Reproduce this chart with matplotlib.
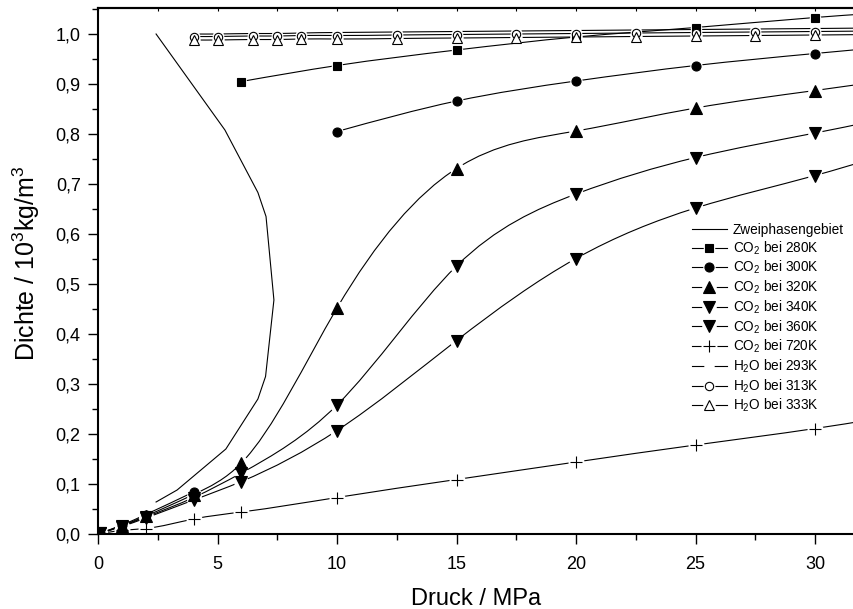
import numpy as np
import matplotlib
matplotlib.use("Agg")
import matplotlib.pyplot as plt
from matplotlib.ticker import MultipleLocator, FuncFormatter
from matplotlib.path import Path
from matplotlib.patches import PathPatch
from matplotlib.lines import Line2D

plt.rcParams['font.family'] = ['Liberation Sans', 'DejaVu Sans']
plt.rcParams['mathtext.fontset'] = 'custom'
plt.rcParams['mathtext.rm'] = 'Liberation Sans'
plt.rcParams['mathtext.it'] = 'Liberation Sans:italic'
plt.rcParams['mathtext.bf'] = 'Liberation Sans:bold'

nan = np.nan

# two-phase boundary of CO2 (liquid branch -> critical point -> vapour branch)
zw_p = [2.43, 5.31, 6.69, 7.03, 7.36, 7.01, 6.69, 5.35, 3.31, 2.43]
zw_rho = [1.000, 0.808, 0.683, 0.635, 0.468, 0.315, 0.270, 0.170, 0.088, 0.064]

# CO2 isotherms, density in 10^3 kg/m^3
p_co2 = [0.1, 1, 2, 4, 6, 10, 15, 20, 25, 30, 35]
co2_280 = [nan, nan, nan, nan, 0.905, 0.937, 0.968, 0.994, 1.013, 1.033, 1.049]
co2_300 = [0.0018, 0.018, 0.039, 0.084, nan, 0.805, 0.866, 0.906, 0.937, 0.961, 0.983]
co2_320 = [0.0017, 0.017, 0.036, 0.079, 0.142, 0.452, 0.731, 0.806, 0.852, 0.887, 0.921]
co2_340 = [0.0016, 0.016, 0.034, 0.073, 0.122, 0.258, 0.536, 0.680, 0.753, 0.802, 0.852]
co2_360 = [0.0015, 0.015, 0.032, 0.068, 0.105, 0.207, 0.387, 0.551, 0.652, 0.717, 0.790]
co2_720 = [0.0007, 0.0073, 0.011, 0.030, 0.044, 0.073, 0.109, 0.144, 0.178, 0.211, 0.250]

# water isotherms
p_h2o = [4, 5, 6.5, 7.5, 8.5, 10, 12.5, 15, 17.5, 20, 22.5, 25, 27.5, 30, 35]
h2o_293 = [1.000, 1.000, 1.001, 1.001, 1.002, 1.003, 1.004, 1.005, 1.006, 1.007, 1.008, 1.009, 1.010, 1.011, 1.013]
h2o_313 = [0.995, 0.995, 0.996, 0.996, 0.997, 0.997, 0.998, 0.999, 1.000, 1.001, 1.002, 1.003, 1.004, 1.005, 1.007]
h2o_333 = [0.988, 0.988, 0.989, 0.989, 0.990, 0.990, 0.991, 0.992, 0.993, 0.994, 0.995, 0.996, 0.997, 0.998, 1.000]


def natural_slopes(xs, ys):
    # end slopes of each interval of a natural cubic spline
    n = len(xs)
    h = np.diff(xs)
    d = np.diff(ys) / h
    M = np.zeros(n)
    if n > 2:
        A = np.zeros((n - 2, n - 2))
        r = 6 * (d[1:] - d[:-1])
        for i in range(n - 2):
            A[i, i] = 2 * (h[i] + h[i + 1])
            if i > 0:
                A[i, i - 1] = h[i]
            if i < n - 3:
                A[i, i + 1] = h[i + 1]
        M[1:-1] = np.linalg.solve(A, r)
    m0 = d - h * (2 * M[:-1] + M[1:]) / 6
    m1 = d + h * (M[:-1] + 2 * M[1:]) / 6
    return m0, m1


def spline_path(x, y):
    # smooth curve through the points, split at missing values
    x = np.asarray(x, float)
    y = np.asarray(y, float)
    verts, codes = [], []
    ok = ~np.isnan(y)
    start = 0
    while start < len(x):
        if not ok[start]:
            start += 1
            continue
        end = start
        while end + 1 < len(x) and ok[end + 1]:
            end += 1
        xs, ys = x[start:end + 1], y[start:end + 1]
        if len(xs) > 1:
            m0, m1 = natural_slopes(xs, ys)
            verts.append((xs[0], ys[0]))
            codes.append(Path.MOVETO)
            for i in range(len(xs) - 1):
                h = (xs[i + 1] - xs[i]) / 3
                verts += [(xs[i] + h, ys[i] + m0[i] * h),
                          (xs[i + 1] - h, ys[i + 1] - m1[i] * h),
                          (xs[i + 1], ys[i + 1])]
                codes += [Path.CURVE4] * 3
        start = end + 1
    return Path(verts, codes)


def draw_series(ax, x, y, marker, ms, fill, z):
    # smooth line, white gap around the symbols, then the symbols on top
    ax.add_patch(PathPatch(spline_path(x, y), fill=False, ec='black',
                           lw=0.8, zorder=1))
    line = Line2D([], [], color='black', lw=0.8)
    gap, = ax.plot(x, y, ls='none', marker='o', ms=ms + 2.5,
                   mfc='white', mec='white', mew=0, zorder=2)
    if marker is None:
        return (line, gap)
    sym, = ax.plot(x, y, ls='none', marker=marker, ms=ms, mfc=fill,
                   mec='black', mew=0.8, zorder=z)
    return (line, gap, sym)


fig = plt.figure(figsize=(8.54, 6.09), dpi=100)
ax = fig.add_axes([98 / 854, 75 / 609, 1 - 98 / 854, 526 / 609])

zw_line, = ax.plot(zw_p, zw_rho, color='black', lw=0.8, zorder=1)

handles = [zw_line]
handles.append(draw_series(ax, p_co2, co2_280, 's', 5.8, 'black', 3))
handles.append(draw_series(ax, p_co2, co2_300, 'o', 6.5, 'black', 4))
handles.append(draw_series(ax, p_co2, co2_320, '^', 8, 'black', 5))
handles.append(draw_series(ax, p_co2, co2_340, 'v', 8, 'black', 6))
handles.append(draw_series(ax, p_co2, co2_360, 'v', 8, 'black', 7))
handles.append(draw_series(ax, p_co2, co2_720, '+', 9, 'black', 8))
handles.append(draw_series(ax, p_h2o, h2o_293, None, 5, 'white', 9))
handles.append(draw_series(ax, p_h2o, h2o_313, 'o', 6, 'white', 10))
handles.append(draw_series(ax, p_h2o, h2o_333, '^', 6.5, 'white', 11))

labels = ['Zweiphasengebiet',
          'CO$_2$ bei 280K', 'CO$_2$ bei 300K', 'CO$_2$ bei 320K',
          'CO$_2$ bei 340K', 'CO$_2$ bei 360K', 'CO$_2$ bei 720K',
          'H$_2$O bei 293K', 'H$_2$O bei 313K', 'H$_2$O bei 333K']

ax.legend(handles, labels, loc='upper left', numpoints=1,
          bbox_to_anchor=(692 / 854, 1 - 223 / 609),
          bbox_transform=fig.transFigure, frameon=False, fontsize=9.8,
          handlelength=2.55, handletextpad=0.45, labelspacing=0.17,
          borderpad=0, borderaxespad=0)

ax.set_xlim(0, 31.63)
ax.set_ylim(0, 1.052)

ax.xaxis.set_major_locator(MultipleLocator(5))
ax.xaxis.set_minor_locator(MultipleLocator(2.5))
ax.yaxis.set_major_locator(MultipleLocator(0.1))
ax.yaxis.set_minor_locator(MultipleLocator(0.05))
ax.yaxis.set_major_formatter(FuncFormatter(lambda v, pos: f"{v:.1f}".replace('.', ',')))

ax.tick_params(which='major', direction='out', length=7.5, width=1.0,
               labelsize=13, pad=5)
ax.tick_params(which='minor', direction='out', length=4.5, width=1.0)
ax.tick_params(axis='x', which='major', pad=8)

for side in ['left', 'bottom', 'top']:
    ax.spines[side].set_linewidth(1.5)
ax.spines['right'].set_visible(False)

top = ax.secondary_xaxis('top')
top.xaxis.set_major_locator(MultipleLocator(2.5))
top.tick_params(direction='in', length=2.5, width=0.8, labeltop=False)
top.spines['top'].set_linewidth(1.5)

ax.set_xlabel('Druck / MPa', fontsize=17, labelpad=11)
ax.set_ylabel('Dichte / 10$^3$kg/m$^3$', fontsize=18)
ax.yaxis.set_label_coords(-0.074, 0.515)

fig.savefig('out.png', dpi=100)
